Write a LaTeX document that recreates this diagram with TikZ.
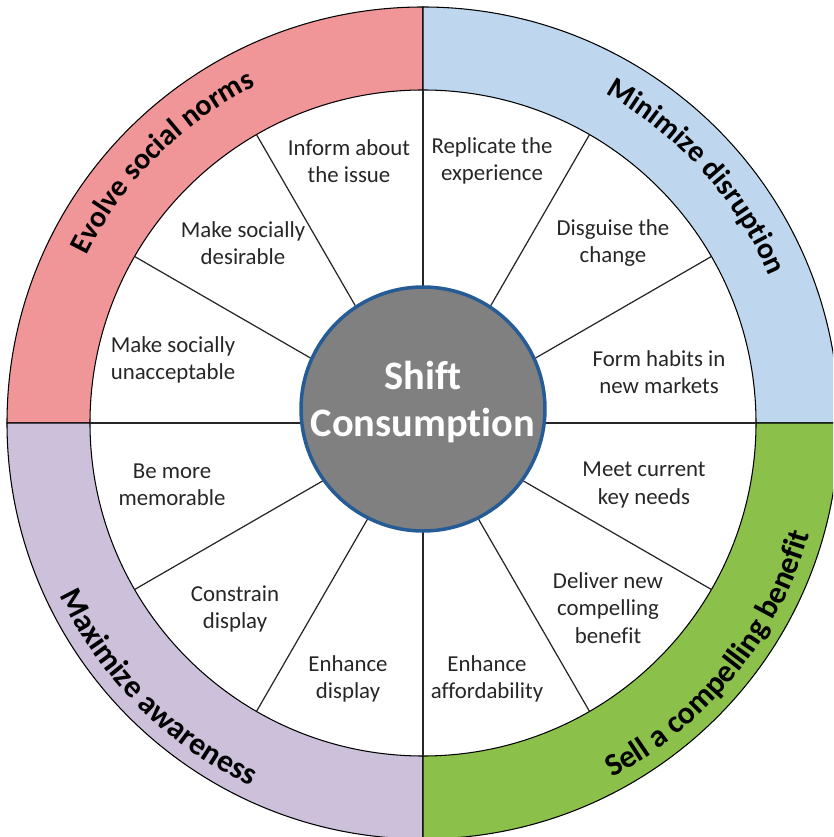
\documentclass[tikz,border=0pt]{standalone}
\usepackage{fontspec}
\setmainfont{Carlito}[Ligatures=NoCommon]
\usepackage{tikz}
\usetikzlibrary{decorations.text}

\definecolor{normred}{RGB}{240,150,152}
\definecolor{disrblue}{RGB}{190,215,238}
\definecolor{awarelav}{RGB}{205,192,218}
\definecolor{benefgreen}{RGB}{139,192,74}
\definecolor{hubgray}{RGB}{128,128,128}
\definecolor{hubblue}{RGB}{38,92,150}

\begin{document}
\begin{tikzpicture}[x=0.02cm, y=0.02cm,
  band/.style={draw=black, line width=0.6pt},
  spoke/.style={draw=black!85, line width=0.7pt},
  seg/.style={align=center, text=black!85, font=\fontsize{13}{15.5}\selectfont},
  bandtext/.style 2 args={decorate, decoration={text along path, text align=center,
    text={|\bfseries\fontsize{#1}{20}\selectfont|#2}}}]
\useasboundingbox (-423,-414) rectangle (410,423);
\clip (-423,-414) rectangle (410,423);

\filldraw[band, fill=normred] (90:416) arc[start angle=90, end angle=180, radius=416]
  -- (180:333) arc[start angle=180, end angle=90, radius=333] -- cycle;
\filldraw[band, fill=disrblue] (0:416) arc[start angle=0, end angle=90, radius=416]
  -- (90:333) arc[start angle=90, end angle=0, radius=333] -- cycle;
\filldraw[band, fill=awarelav] (180:416) arc[start angle=180, end angle=270, radius=416]
  -- (270:333) arc[start angle=270, end angle=180, radius=333] -- cycle;
\filldraw[band, fill=benefgreen] (270:416) arc[start angle=270, end angle=360, radius=416]
  -- (360:333) arc[start angle=360, end angle=270, radius=333] -- cycle;

\draw[spoke] (0:333) -- (180:333);
\draw[spoke] (30:333) -- (210:333);
\draw[spoke] (60:333) -- (240:333);
\draw[spoke] (90:333) -- (270:333);
\draw[spoke] (120:333) -- (300:333);
\draw[spoke] (150:333) -- (330:333);

\node[circle, fill=hubgray, draw=hubblue, line width=2pt, minimum size=4.88cm, inner sep=0pt]
  (hub) at (0,14) {};
\node[align=center, text=white, font=\bfseries\fontsize{23}{27}\selectfont] (hubtext)
  at (0,21) {Shift\\Consumption};

\node[seg] (inform) at (-74,262) {Inform about\\the issue};
\node[seg] (desirable) at (-180,180) {Make socially\\desirable};
\node[seg] (unacceptable) at (-250,63) {Make socially\\unacceptable};
\node[seg] (replicate) at (69,262) {Replicate the\\experience};
\node[seg] (disguise) at (190,180) {Disguise the\\change};
\node[seg] (habits) at (236,51) {Form habits in\\new markets};
\node[seg] (memorable) at (-251,-62) {Be more\\memorable};
\node[seg] (constrain) at (-188,-186) {Constrain\\display};
\node[seg] (enhdisplay) at (-75,-256) {Enhance\\display};
\node[seg] (needs) at (221,-62) {Meet current\\key needs};
\node[seg] (deliver) at (185,-185) {Deliver new\\compelling\\benefit};
\node[seg] (afford) at (64,-256) {Enhance\\affordability};

\path[bandtext={17}{Evolve social norms}] (165:376) arc[start angle=165, end angle=105, radius=376];
\path[bandtext={17}{Minimize disruption}] (72:376) arc[start angle=72, end angle=12, radius=376];
\path[bandtext={18}{Maximize awareness}] (195:402) arc[start angle=195, end angle=255, radius=402];
\path[bandtext={18}{Sell a compelling benefit}] (-69:402) arc[start angle=-69, end angle=-9, radius=402];
\end{tikzpicture}
\end{document}
